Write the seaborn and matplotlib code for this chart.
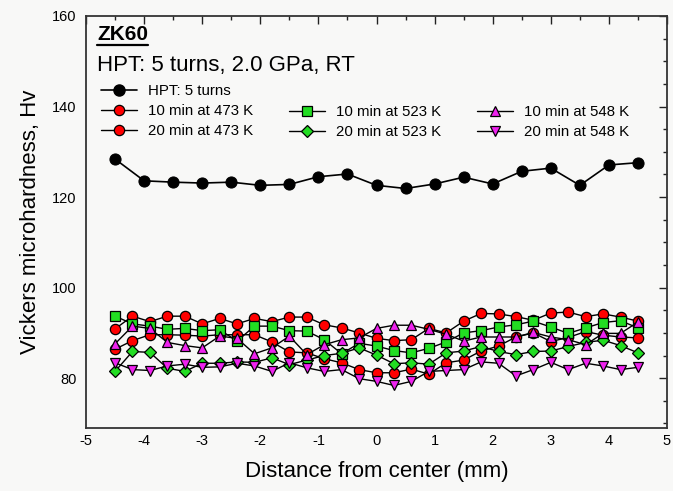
import matplotlib
matplotlib.use("Agg")
import matplotlib.pyplot as plt
import seaborn as sns
from matplotlib.ticker import MultipleLocator
from matplotlib.lines import Line2D

sns.set_theme(style="white")
plt.rcParams['font.family'] = ['Liberation Sans', 'DejaVu Sans']
plt.rcParams['axes.unicode_minus'] = False
plt.rcParams['text.color'] = 'black'
plt.rcParams['axes.labelcolor'] = 'black'

# ---------------- data ----------------
x_hpt = [-4.5, -4.0, -3.5, -3.0, -2.5, -2.0, -1.5, -1.0, -0.5, 0.0,
         0.5, 1.0, 1.5, 2.0, 2.5, 3.0, 3.5, 4.0, 4.5]
hv_hpt = [128.4, 123.6, 123.3, 123.1, 123.3, 122.6, 122.8, 124.5, 125.1, 122.6,
          121.9, 122.9, 124.4, 122.9, 125.7, 126.4, 122.6, 127.1, 127.6]

x_ann = [-4.5, -4.2, -3.9, -3.6, -3.3, -3.0, -2.7, -2.4, -2.1, -1.8, -1.5,
         -1.2, -0.9, -0.6, -0.3, 0.0, 0.3, 0.6, 0.9, 1.2, 1.5, 1.8, 2.1,
         2.4, 2.7, 3.0, 3.3, 3.6, 3.9, 4.2, 4.5]
hv_10_473 = [90.9, 93.7, 92.5, 93.7, 93.7, 92.0, 93.2, 92.0, 93.2, 92.5, 93.5,
             93.5, 91.8, 91.1, 90.0, 88.8, 88.3, 88.5, 91.0, 90.0, 92.6, 94.3,
             94.2, 93.6, 92.8, 94.4, 94.6, 93.6, 94.2, 93.5, 92.6]
hv_20_473 = [86.4, 88.3, 89.6, 89.6, 89.5, 89.3, 89.6, 89.6, 89.6, 88.0, 85.8,
             85.6, 84.3, 83.4, 81.9, 81.2, 81.2, 82.0, 80.9, 83.4, 84.0, 86.0,
             87.1, 89.1, 90.0, 88.1, 89.0, 90.3, 89.5, 89.1, 88.9]
hv_10_523 = [93.7, 92.0, 91.5, 90.8, 91.0, 90.5, 90.7, 88.2, 91.5, 91.5, 90.5,
             90.4, 88.5, 85.4, 87.7, 87.1, 86.1, 85.6, 86.6, 88.0, 90.0, 90.5,
             91.3, 91.8, 92.6, 91.3, 89.9, 91.1, 92.3, 92.7, 91.1]
hv_20_523 = [81.5, 85.9, 85.7, 82.2, 81.5, 83.3, 83.3, 83.6, 83.5, 84.5, 83.0,
             84.0, 85.0, 85.5, 86.7, 85.1, 83.2, 83.4, 83.1, 85.6, 86.0, 87.0,
             85.9, 85.2, 85.9, 86.0, 87.0, 87.9, 88.4, 87.2, 85.6]
hv_10_548 = [87.6, 91.5, 91.0, 87.9, 87.2, 86.7, 89.3, 88.8, 85.4, 86.7, 89.3,
             85.2, 87.4, 88.5, 88.9, 91.0, 91.7, 91.7, 90.8, 89.7, 88.2, 89.1,
             89.1, 89.1, 90.1, 89.1, 88.5, 87.4, 89.9, 89.9, 92.4]
hv_20_548 = [83.4, 81.9, 81.7, 82.7, 83.1, 82.4, 82.5, 83.3, 82.7, 81.5, 83.4,
             82.3, 81.5, 81.9, 79.9, 79.3, 78.4, 79.3, 81.5, 81.7, 81.9, 83.6,
             83.3, 80.5, 81.9, 83.5, 81.9, 83.3, 82.7, 81.9, 82.4]

labels = ["HPT: 5 turns", "10 min at 473 K", "20 min at 473 K",
          "10 min at 523 K", "20 min at 523 K", "10 min at 548 K", "20 min at 548 K"]

# ---------------- figure ----------------
W, H = 673, 491
bg = '#f8f8f7'
fig = plt.figure(figsize=(W / 100, H / 100), dpi=100, facecolor=bg)
ax = fig.add_axes([86 / W, 1 - 428 / H, (667 - 86) / W, (428 - 16) / H])
ax.set_facecolor(bg)

ann = [
    (hv_10_473, 'o', 'red', 7.4),
    (hv_20_473, 'o', 'red', 7.4),
    (hv_10_523, 's', '#22dd22', 6.8),
    (hv_20_523, 'D', '#22dd22', 6.2),
    (hv_10_548, '^', '#ee22ee', 7.4),
    (hv_20_548, 'v', '#ee22ee', 7.4),
]
handles = {}
for (vals, mk, fc, ms), lab in zip(ann, labels[1:]):
    sns.lineplot(x=x_ann, y=vals, ax=ax, color='black', linewidth=1.0,
                 marker=mk, markersize=ms, markerfacecolor=fc,
                 markeredgecolor='black', markeredgewidth=0.9,
                 estimator=None, sort=False, legend=False)
    handles[lab] = Line2D([], [], color='black', linewidth=1.0, marker=mk,
                          markersize=ms, markerfacecolor=fc,
                          markeredgecolor='black', markeredgewidth=0.9)

sns.lineplot(x=x_hpt, y=hv_hpt, ax=ax, color='black', linewidth=1.2,
             marker='o', markersize=8, markerfacecolor='black',
             markeredgecolor='black', estimator=None, sort=False, legend=False)
handles[labels[0]] = Line2D([], [], color='black', linewidth=1.2, marker='o',
                            markersize=8, markerfacecolor='black',
                            markeredgecolor='black')

ax.set_xlim(-5, 5)
ax.set_ylim(69, 160)
ax.xaxis.set_major_locator(MultipleLocator(1))
ax.xaxis.set_minor_locator(MultipleLocator(0.5))
ax.yaxis.set_major_locator(MultipleLocator(20))
ax.yaxis.set_minor_locator(MultipleLocator(5))
ax.tick_params(which='both', direction='in', top=True, right=True,
               colors='#222222', labelcolor='black', width=1.0)
ax.tick_params(which='major', length=6, labelsize=10.5)
ax.tick_params(axis='x', which='major', pad=4)
ax.tick_params(axis='y', which='major', pad=7)
ax.tick_params(which='minor', length=3)
for s in ax.spines.values():
    s.set_color('#333333')
    s.set_linewidth(1.3)

ax.set_xlabel("Distance from center (mm)", fontsize=16, labelpad=10, color='black')
ax.set_ylabel("Vickers microhardness, Hv", fontsize=16, labelpad=8, color='black')

# title texts
t1 = fig.text(97 / W, 1 - 35 / H, "ZK60", fontsize=15, fontweight='bold',
              va='center', ha='left', color='black')
fig.text(97 / W, 1 - 65 / H, "HPT: 5 turns, 2.0 GPa, RT", fontsize=16,
         va='center', ha='left', color='black')

# legends (three columns)
leg_kw = dict(frameon=False, fontsize=10.8, handlelength=2.4,
              handletextpad=0.75, labelspacing=0.40, borderpad=0,
              borderaxespad=0, loc='upper left', bbox_transform=fig.transFigure,
              labelcolor='black')
col1 = [labels[0], labels[1], labels[2]]
col2 = [labels[3], labels[4]]
col3 = [labels[5], labels[6]]
fig.legend([handles[k] for k in col1], col1,
           bbox_to_anchor=(101 / W, 1 - 84 / H), **leg_kw)
fig.legend([handles[k] for k in col2], col2,
           bbox_to_anchor=(289 / W, 1 - 105 / H), **leg_kw)
fig.legend([handles[k] for k in col3], col3,
           bbox_to_anchor=(477 / W, 1 - 105 / H), **leg_kw)

# underline ZK60
fig.canvas.draw()
bb = t1.get_window_extent().transformed(fig.transFigure.inverted())
fig.add_artist(Line2D([bb.x0, bb.x1], [bb.y0 - 0.002, bb.y0 - 0.002],
                      transform=fig.transFigure, color='black', linewidth=1.6))

fig.savefig("out.png", dpi=100, facecolor=bg)
